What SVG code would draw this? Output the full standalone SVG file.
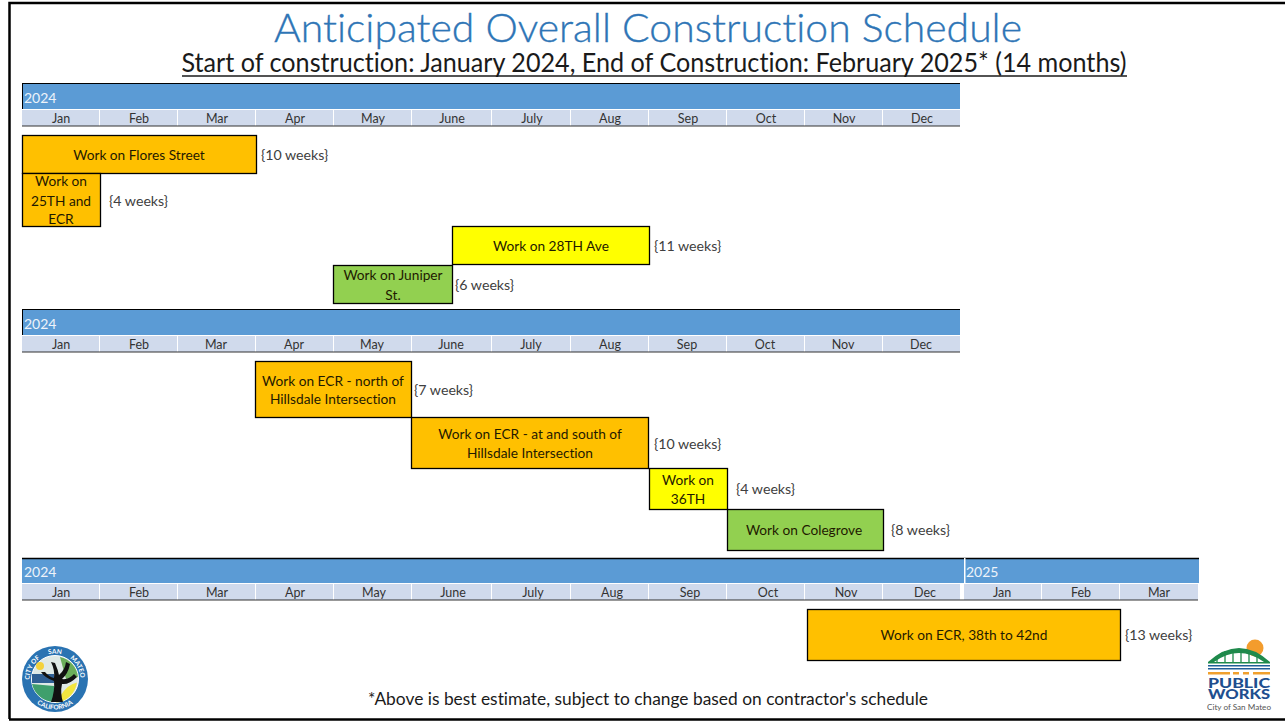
<svg xmlns="http://www.w3.org/2000/svg" width="1285" height="721" viewBox="0 0 1285 721">
<style>
text{font-family:Lato,"Open Sans","Liberation Sans",sans-serif;fill:#1a1a1a;font-variant-ligatures:none}
.m{font-size:12.5px;text-anchor:middle;fill:#333}
.y{font-size:14px;fill:#eef3fa}
.l{font-size:13.7px;text-anchor:middle;fill:#1f1a00}
.w{font-size:14.2px;fill:#404040}
.band{fill:#5b9bd5}
.mb{fill:#d0daec}
.o{fill:#ffc000;stroke:#000;stroke-width:1.3}
.ye{fill:#ffff00;stroke:#000;stroke-width:1.3}
.g{fill:#92d050;stroke:#000;stroke-width:1.3}
.sw{fill:#fff;font-weight:700;font-size:6.500px;text-anchor:middle}
</style>
<defs>
<g id="months">
<rect class="mb" x="0" y="0" width="77" height="16"/><rect class="mb" x="78" y="0" width="77" height="16"/><rect class="mb" x="156" y="0" width="77" height="16"/><rect class="mb" x="234" y="0" width="77" height="16"/><rect class="mb" x="312" y="0" width="77" height="16"/><rect class="mb" x="390" y="0" width="79" height="16"/><rect class="mb" x="470" y="0" width="78" height="16"/><rect class="mb" x="549" y="0" width="77" height="16"/><rect class="mb" x="627" y="0" width="77" height="16"/><rect class="mb" x="705" y="0" width="77" height="16"/><rect class="mb" x="783" y="0" width="77" height="16"/><rect class="mb" x="861" y="0" width="77" height="16"/>
<rect x="0" y="15.500" width="938" height="1" fill="#333"/>
</g>
<path id="arcTop" d="M31 687.700A25.500 25.500 0 1 1 79 687.700"/>
<path id="arcBot" d="M24.500 679a30.500 30.500 0 0 0 61 0"/>
</defs>
<rect width="1285" height="721" fill="#fff"/>
<path d="M9.500 719V3H1285M9 719.500H1285" fill="none" stroke="#000" stroke-width="2.500"/>
<g id="title">
<text x="648" y="42" text-anchor="middle" font-size="40" font-weight="300" style="fill:#2e75b6;stroke:#2e75b6;stroke-width:.35" textLength="748" lengthAdjust="spacingAndGlyphs">Anticipated Overall Construction Schedule</text>
<text x="654" y="72" text-anchor="middle" font-size="26.500" textLength="945" lengthAdjust="spacingAndGlyphs">Start of construction: January 2024, End of Construction: February 2025* (14 months)</text>
<path d="M182 76H1127" stroke="#1a1a1a" stroke-width="1.700" fill="none"/>
</g>
<g id="calendar-1">
<rect class="band" x="22" y="84" width="938" height="25"/><path d="M22 83.500H960M22.500 84V109" stroke="#000" fill="none"/>
<text class="y" x="24" y="103">2024</text>
<use href="#months" x="22" y="110"/>
<g class="mt"><text class="m" x="61" y="123">Jan</text><text class="m" x="139" y="123">Feb</text><text class="m" x="217" y="123">Mar</text><text class="m" x="295" y="123">Apr</text><text class="m" x="373" y="123">May</text><text class="m" x="452" y="123">June</text><text class="m" x="532" y="123">July</text><text class="m" x="610" y="123">Aug</text><text class="m" x="688" y="123">Sep</text><text class="m" x="766" y="123">Oct</text><text class="m" x="844" y="123">Nov</text><text class="m" x="922" y="123">Dec</text></g>
</g>
<g id="calendar-2">
<rect class="band" x="22" y="310" width="938" height="25"/><path d="M22 309.500H960M22.500 310V335" stroke="#000" fill="none"/>
<text class="y" x="24" y="329">2024</text>
<use href="#months" x="22" y="336"/>
<g class="mt"><text class="m" x="61" y="349">Jan</text><text class="m" x="139" y="349">Feb</text><text class="m" x="216" y="349">Mar</text><text class="m" x="294" y="349">Apr</text><text class="m" x="372" y="349">May</text><text class="m" x="451" y="349">June</text><text class="m" x="531" y="349">July</text><text class="m" x="610" y="349">Aug</text><text class="m" x="687" y="349">Sep</text><text class="m" x="765" y="349">Oct</text><text class="m" x="843" y="349">Nov</text><text class="m" x="921" y="349">Dec</text></g>
</g>
<g id="calendar-3">
<rect class="band" x="22" y="559" width="1177" height="24"/><path d="M22 558.500H1199" stroke="#000" stroke-width="1.500" fill="none"/>
<rect x="964" y="558" width="1.500" height="25" fill="#fff"/>
<text class="y" x="24" y="577">2024</text><text class="y" x="966" y="577">2025</text>
<use href="#months" x="22" y="584"/>
<rect class="mb" x="964" y="584" width="77" height="16"/><rect class="mb" x="1042" y="584" width="77" height="16"/><rect class="mb" x="1120" y="584" width="78" height="16"/>
<rect x="960" y="599.500" width="238" height="1" fill="#333"/>
<g class="mt"><text class="m" x="61" y="597">Jan</text><text class="m" x="139" y="597">Feb</text><text class="m" x="217" y="597">Mar</text><text class="m" x="295" y="597">Apr</text><text class="m" x="374" y="597">May</text><text class="m" x="453" y="597">June</text><text class="m" x="533" y="597">July</text><text class="m" x="612" y="597">Aug</text><text class="m" x="690" y="597">Sep</text><text class="m" x="768" y="597">Oct</text><text class="m" x="846" y="597">Nov</text><text class="m" x="925" y="597">Dec</text><text class="m" x="1002" y="597">Jan</text><text class="m" x="1081" y="597">Feb</text><text class="m" x="1159" y="597">Mar</text></g>
</g>
<g id="task-flores"><rect class="o" x="22.500" y="135.500" width="234" height="38"/><text class="l" x="139" y="160">Work on Flores Street</text><text class="w" x="261" y="160">{10 weeks}</text></g>
<g id="task-25th"><rect class="o" x="22.500" y="173.500" width="78" height="53"/><text class="l" x="61" y="186">Work on</text><text class="l" x="61" y="206">25TH and</text><text class="l" x="61" y="224">ECR</text><text class="w" x="109" y="206">{4 weeks}</text></g>
<g id="task-28th"><rect class="ye" x="452.500" y="226.500" width="197" height="38"/><text class="l" x="551" y="251">Work on 28TH Ave</text><text class="w" x="654" y="251">{11 weeks}</text></g>
<g id="task-juniper"><rect class="g" x="333.500" y="265.500" width="119" height="38"/><text class="l" x="393" y="280">Work on Juniper</text><text class="l" x="393" y="300">St.</text><text class="w" x="455" y="290">{6 weeks}</text></g>
<g id="task-ecr-north"><rect class="o" x="255.500" y="361.500" width="156" height="56"/><text class="l" x="333" y="386">Work on ECR - north of</text><text class="l" x="333" y="404">Hillsdale Intersection</text><text class="w" x="414" y="395">{7 weeks}</text></g>
<g id="task-ecr-south"><rect class="o" x="411.500" y="417.500" width="237" height="51"/><text class="l" x="530" y="439">Work on ECR - at and south of</text><text class="l" x="530" y="458">Hillsdale Intersection</text><text class="w" x="654" y="449">{10 weeks}</text></g>
<g id="task-36th"><rect class="ye" x="649.500" y="468.500" width="78" height="41"/><text class="l" x="688" y="485">Work on</text><text class="l" x="688" y="504">36TH</text><text class="w" x="736" y="494">{4 weeks}</text></g>
<g id="task-colegrove"><rect class="g" x="727.500" y="509.500" width="156" height="41"/><text class="l" x="804" y="535">Work on Colegrove</text><text class="w" x="891" y="535">{8 weeks}</text></g>
<g id="task-ecr-38"><rect class="o" x="807.500" y="609.500" width="313" height="51"/><text class="l" x="964" y="640">Work on ECR, 38th to 42nd</text><text class="w" x="1125" y="640">{13 weeks}</text></g>
<text id="note" x="648" y="705" text-anchor="middle" font-size="17" textLength="560" lengthAdjust="spacingAndGlyphs">*Above is best estimate, subject to change based on contractor's schedule</text>
<g id="seal">
<circle cx="55" cy="679" r="33" fill="#2a73b2"/>
<circle cx="55" cy="679" r="23.500" fill="#dfe9e6" stroke="#fff"/>
<path d="M32 684a23.500 23.500 0 0 0 22 18v-16z" fill="#3f9f6c"/>
<path d="M56 702.500a23.500 23.500 0 0 0 21-20q-10 2-17 14z" fill="#f2e640"/>
<path d="M60 657a23 23 0 0 1 18 20l-12 2z" fill="#6bae5a"/>
<path d="M32 674h22v9H32z" fill="#2f5f94"/>
<circle cx="40" cy="666" r="4" fill="#f4d23a"/>
<path d="M51 702q4-11 3-21q-9-3-13-9l4 0q4 5 9 6q1-8-3-16l4 1q3 7 4 12q6-5 7-13l4 2q-2 10-8 15q7 1 12-5l3 3q-8 8-15 7q-2 9 1 18z" fill="#111"/>
<text class="sw"><textPath href="#arcTop" startOffset="21%">CITY OF</textPath></text>
<text class="sw"><textPath href="#arcTop" startOffset="50%">SAN</textPath></text>
<text class="sw"><textPath href="#arcTop" startOffset="78%">MATEO</textPath></text>
<text class="sw"><textPath href="#arcBot" startOffset="50%">CALIFORNIA</textPath></text>
</g>
<g id="public-works">
<circle cx="1255" cy="648" r="8.500" fill="#f39c2d"/>
<path d="M1208 662q31-28 62 0h-6q-25-18-50 0z" fill="#1f8a4c"/>
<path d="M1217 656v6M1225 651v11M1233 649v13M1241 649v13M1249 651v11M1257 655v7" stroke="#1f8a4c" stroke-width="1.300" fill="none"/>
<path d="M1208 662h62v1.500h-62z" fill="#1f8a4c"/>
<path d="M1208 665h62v1.500h-62zM1208 668h62v1.500h-62z" fill="#1f5f99"/>
<path d="M1208 672h22v2.500h-22zM1233 672h6v2.500h-6zM1243 672h6v2.500h-6zM1253 672h17v2.500h-17z" fill="#f0a02e"/>
<text x="1239" y="687.500" text-anchor="middle" font-size="14" font-weight="900" style="fill:#1f4f8f" textLength="62" lengthAdjust="spacingAndGlyphs">PUBLIC</text>
<text x="1239" y="699" text-anchor="middle" font-size="13" font-weight="900" style="fill:#1f4f8f" textLength="62" lengthAdjust="spacingAndGlyphs">WORKS</text>
<text x="1239" y="709.500" text-anchor="middle" font-size="8" style="fill:#555" textLength="64" lengthAdjust="spacingAndGlyphs">City of San Mateo</text>
</g>
</svg>
